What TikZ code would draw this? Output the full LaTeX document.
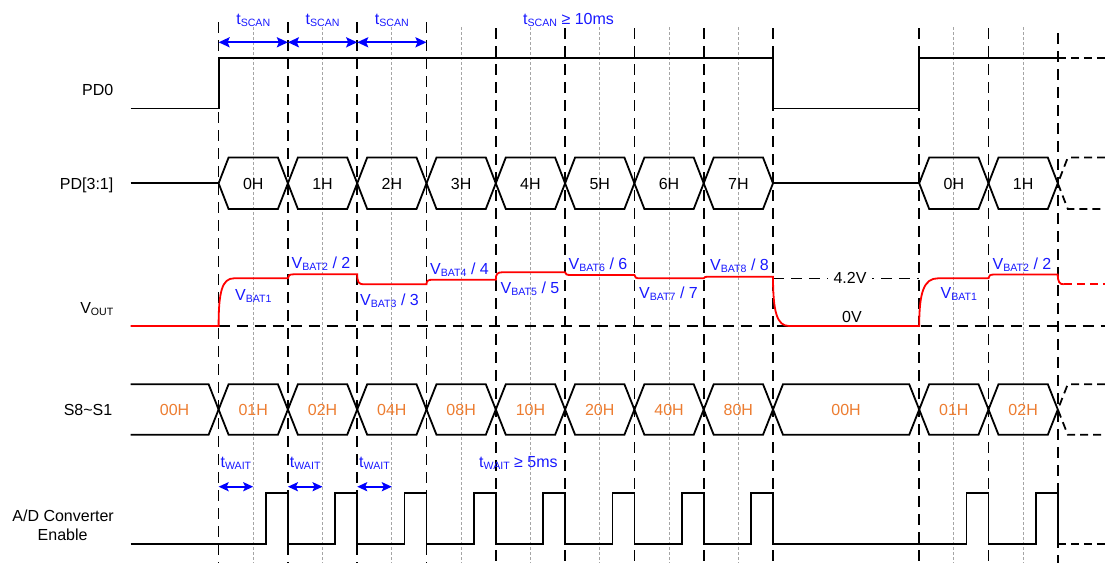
\documentclass[tikz,border=0pt]{standalone}
\usepackage{fontspec}
\setmainfont{Liberation Sans}
\usetikzlibrary{arrows.meta}
\definecolor{sigblue}{RGB}{25,25,255}
\definecolor{arrblue}{RGB}{0,0,255}
\definecolor{busorange}{RGB}{237,125,49}
\definecolor{guidegray}{RGB}{165,165,165}
\newcommand{\sbs}[1]{\raisebox{-2pt}{\fontsize{10.6}{12}\selectfont #1}}
\tikzset{
  lbl/.style={font=\fontsize{16}{18}\selectfont, inner sep=0pt, anchor=base},
  rowlbl/.style={lbl, anchor=base east},
  bluelbl/.style={lbl, text=sigblue},
  bluelblw/.style={bluelbl, anchor=base west},
  orlbl/.style={lbl, text=busorange},
  guide/.style={line width=1.6pt, dash pattern=on 11pt off 7pt},
  midguide/.style={guidegray, line width=1pt, dash pattern=on 2.5pt off 2.5pt},
  sig/.style={line width=1.8pt, line join=miter},
  sigdash/.style={sig, dash pattern=on 8pt off 5pt},
  vsig/.style={red, line width=1.8pt},
  level/.style={line width=1.6pt, dash pattern=on 11pt off 7pt},
  dimarrow/.style={arrblue, line width=2pt, {Stealth[length=11pt,width=10pt,inset=2pt]}-{Stealth[length=11pt,width=10pt,inset=2pt]}},
  dimarrows/.style={arrblue, line width=2pt, {Stealth[length=10pt,width=9pt,inset=2pt]}-{Stealth[length=10pt,width=9pt,inset=2pt]}},
}
\begin{document}
\begin{tikzpicture}[x=1pt,y=-1pt]
\fill[white] (0,0) rectangle (1105,563);
\useasboundingbox (0,0) rectangle (1105,563);

% ---------- vertical guides ----------
\foreach \x/\t in {218.6/22,287.9/22,357.2/22,426.5/22,495.8/28,565.1/28,634.4/28,703.7/28,773.0/28,919.2/28,988.5/28,1057.8/33}
  \draw[guide] (\x,\t) -- (\x,563);
\foreach \x in {253.25,322.55,391.85,461.15,530.45,599.75,669.05,738.35,953.85,1023.15}
  \draw[midguide] (\x,27) -- (\x,563);

% ---------- t_SCAN ----------
\coordinate (sa0) at (218.6,42.3);
\coordinate (sa1) at (287.9,42.3);
\coordinate (sa2) at (357.2,42.3);
\coordinate (sa3) at (426.5,42.3);
\draw[dimarrow] (sa0) -- (sa1);
\draw[dimarrow] (sa1) -- (sa2);
\draw[dimarrow] (sa2) -- (sa3);
\node[bluelbl] (ts1) at (253.25,24.3) {t\sbs{SCAN}};
\node[bluelbl] (ts2) at (322.55,24.3) {t\sbs{SCAN}};
\node[bluelbl] (ts3) at (391.85,24.3) {t\sbs{SCAN}};
\node[bluelblw] (tsall) at (523,24.3) {t\sbs{SCAN} ≥ 10ms};

% ---------- PD0 ----------
\node[rowlbl] (lpd0) at (113.5,95.5) {PD0};
\draw[sig] (130.7,108.5) -- (218.6,108.5) -- (218.6,57.8) -- (773,57.8) -- (773,108.5)
  -- (919.2,108.5) -- (919.2,57.8) -- (1057.8,57.8);
\draw[sigdash] (1057.8,57.8) -- (1105,57.8);

% ---------- PD[3:1] ----------
\node[rowlbl] (lpd31) at (113.5,189.8) {PD[3:1]};
\draw[sig] (130.7,183.3) -- (218.6,183.3);
\foreach \a/\b/\t [count=\i] in {218.6/287.9/0H,287.9/357.2/1H,357.2/426.5/2H,426.5/495.8/3H,495.8/565.1/4H,565.1/634.4/5H,634.4/703.7/6H,703.7/773.0/7H,919.2/988.5/0H,988.5/1057.8/1H}{
  \draw[sig] (\a,183.3) -- ({\a+10},157.5) -- ({\b-10},157.5) -- (\b,183.3) -- ({\b-10},209) -- ({\a+10},209) -- cycle;
  \node[lbl] (pdv\i) at ({(\a+\b)/2},189.8) {\t};
}
\draw[sig] (773,183.3) -- (919.2,183.3);
\draw[sigdash] (1105,157.5) -- (1067.8,157.5) -- (1057.8,183.3) -- (1067.8,209) -- (1105,209);

% ---------- VOUT ----------
\node[rowlbl] (lvout) at (113.5,313.3) {V\sbs{OUT}};
\draw[level] (218.6,326) -- (1105,326);
\draw[level] (773,278.3) -- (919.2,278.3);
\node[lbl, fill=white, inner xsep=6pt] (l42) at (850,283.5) {4.2V};
\node[lbl] (l0v) at (852,322.5) {0V};
\draw[vsig] (130.7,326) -- (218.6,326)
  .. controls (218.6,292) and (222,278.3) .. (234,278.3) -- (287.9,278.3)
  .. controls (287.9,275.3) and (289.4,274.3) .. (293.9,274.3) -- (357.2,274.3)
  .. controls (357.2,281.8) and (358.7,284.3) .. (363.2,284.3) -- (426.5,284.3)
  .. controls (426.5,280.9) and (428,279.7) .. (432.5,279.7) -- (495.8,279.7)
  .. controls (495.8,274.2) and (497.3,272.3) .. (501.8,272.3) -- (565.1,272.3)
  .. controls (565.1,274.3) and (566.6,275) .. (571.1,275) -- (634.4,275)
  .. controls (634.4,277.5) and (635.9,278.3) .. (640.4,278.3) -- (703.7,278.3)
  .. controls (703.7,277.1) and (705.2,276.7) .. (709.7,276.7) -- (773,276.7)
  .. controls (773,312) and (777,326) .. (789,326) -- (919.2,326)
  .. controls (919.2,292) and (924,278.3) .. (938,278.3) -- (988.5,278.3)
  .. controls (988.5,275.5) and (990,274.5) .. (994.5,274.5) -- (1057.8,274.5)
  .. controls (1057.8,281.8) and (1059.3,284.3) .. (1063.8,284.3);
\draw[vsig, dash pattern=on 8pt off 5pt] (1063.8,284.3) -- (1105,284.3);
\node[bluelblw] (vb1) at (235,300.5) {V\sbs{BAT1}};
\node[bluelblw] (vb2) at (291.5,268) {V\sbs{BAT2} / 2};
\node[bluelblw] (vb3) at (360,305) {V\sbs{BAT3} / 3};
\node[bluelblw] (vb4) at (430,274) {V\sbs{BAT4} / 4};
\node[bluelblw] (vb5) at (500.5,293) {V\sbs{BAT5} / 5};
\node[bluelblw] (vb6) at (568.5,269) {V\sbs{BAT6} / 6};
\node[bluelblw] (vb7) at (639,298.5) {V\sbs{BAT7} / 7};
\node[bluelblw] (vb8) at (710,270) {V\sbs{BAT8} / 8};
\node[bluelblw] (vb1b) at (940.5,298.5) {V\sbs{BAT1}};
\node[bluelblw] (vb2b) at (992.5,269) {V\sbs{BAT2} / 2};

% ---------- S8~S1 ----------
\node[rowlbl] (ls8) at (112.5,415) {S8\textasciitilde S1};
\draw[sig] (130.7,384.2) -- (208.6,384.2) -- (218.6,409.5) -- (208.6,434.8) -- (130.7,434.8);
\node[orlbl] (sv0) at (174.6,415) {00H};
\foreach \a/\b/\t [count=\i] in {218.6/287.9/01H,287.9/357.2/02H,357.2/426.5/04H,426.5/495.8/08H,495.8/565.1/10H,565.1/634.4/20H,634.4/703.7/40H,703.7/773.0/80H,773.0/919.2/00H,919.2/988.5/01H,988.5/1057.8/02H}{
  \draw[sig] (\a,409.5) -- ({\a+10},384.2) -- ({\b-10},384.2) -- (\b,409.5) -- ({\b-10},434.8) -- ({\a+10},434.8) -- cycle;
  \node[orlbl] (sv\i) at ({(\a+\b)/2},415) {\t};
}
\draw[sigdash] (1105,384.2) -- (1067.8,384.2) -- (1057.8,409.5) -- (1067.8,434.8) -- (1105,434.8);

% ---------- A/D Converter Enable ----------
\node[rowlbl] (lad1) at (114,521.7) {A/D Converter};
\node[lbl] (lad2) at (62.6,540) {Enable};
\draw[sig] (130.7,544.3)
  \foreach \x in {287.9,357.2,426.5,495.8,565.1,634.4,703.7,773.0,988.5,1057.8}{
    -- ({\x-22},544.3) -- ({\x-22},493.3) -- (\x,493.3) -- (\x,544.3)
  };
\draw[sigdash] (1057.8,544.3) -- (1105,544.3);

% ---------- t_WAIT ----------
\coordinate (wa0) at (218.6,486.7);
\coordinate (wb0) at (253.25,486.7);
\coordinate (wa1) at (287.9,486.7);
\coordinate (wb1) at (322.55,486.7);
\coordinate (wa2) at (357.2,486.7);
\coordinate (wb2) at (391.85,486.7);
\draw[dimarrows] (wa0) -- (wb0);
\draw[dimarrows] (wa1) -- (wb1);
\draw[dimarrows] (wa2) -- (wb2);
\node[bluelbl] (tw1) at (235.9,467) {t\sbs{WAIT}};
\node[bluelbl] (tw2) at (305.2,467) {t\sbs{WAIT}};
\node[bluelbl] (tw3) at (374.5,467) {t\sbs{WAIT}};
\node[bluelblw] (twall) at (479,467) {t\sbs{WAIT} ≥ 5ms};
\end{tikzpicture}
\end{document}
